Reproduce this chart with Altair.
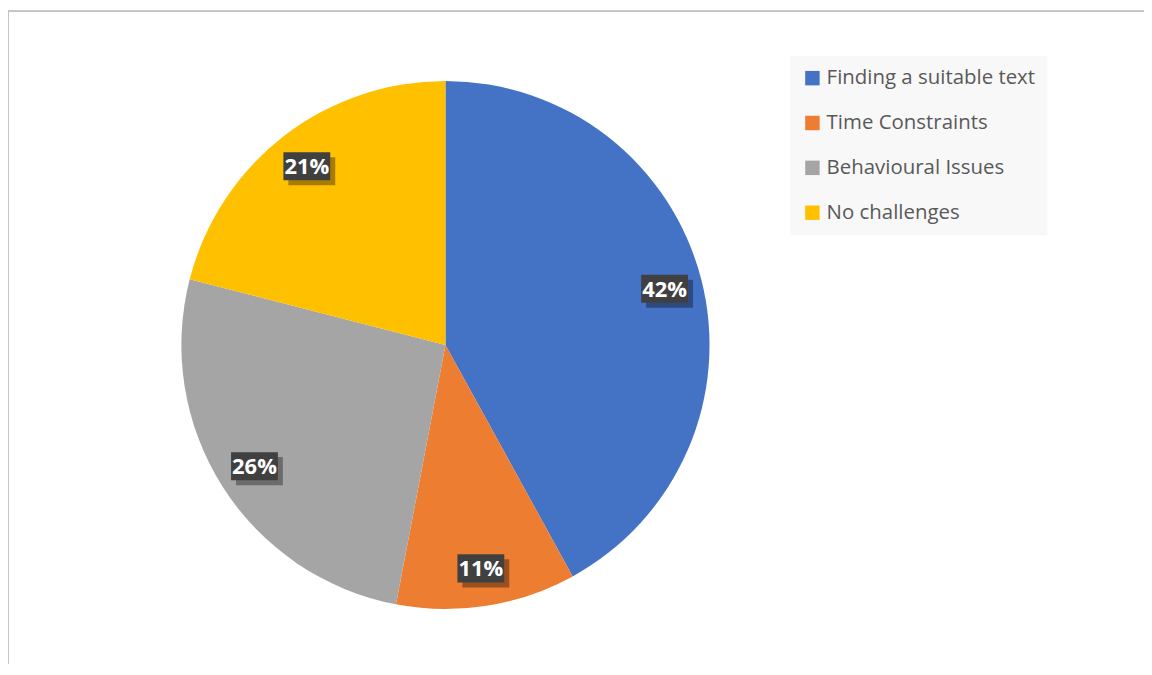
import altair as alt
import pandas as pd

categories = ["Finding a suitable text", "Time Constraints", "Behavioural Issues", "No challenges"]
values = [42, 11, 26, 21]
colors = ["#4472C4", "#ED7D31", "#A5A5A5", "#FFC000"]
order_idx = [0, 1, 2, 3]

df = pd.DataFrame({"category": categories, "value": values, "idx": order_idx})

W, H = 1140, 655
CX, CY = 439, 335          # pie centre inside the view (pixels)
R = 265                    # pie radius
LR = 227                   # label radius

xs = alt.Scale(domain=[-CX, W - CX], range=[0, W], zero=False, nice=False)
ys = alt.Scale(domain=[-(H - CY), CY], range=[H, 0], zero=False, nice=False)

base = alt.Chart(df)

color = alt.Color(
    "category:N",
    scale=alt.Scale(domain=categories, range=colors),
    sort=categories,
    legend=alt.Legend(
        title=None, orient="none", legendX=785, legendY=45,
        fillColor="#F8F8F8", padding=12, symbolType="square", symbolSize=210,
        symbolStrokeWidth=0, labelFontSize=20.5, labelFont="Open Sans",
        labelColor="#595959", rowPadding=24, labelOffset=4, labelLimit=400,
    ),
)

pie = base.mark_arc(radius=R, stroke=None).encode(
    theta=alt.Theta("value:Q", stack=True),
    order=alt.Order("idx:Q"),
    color=color,
    x=alt.datum(0, scale=xs, axis=None, type="quantitative"),
    y=alt.datum(0, scale=ys, axis=None, type="quantitative"),
)

lab = base.transform_window(
    cum="sum(value)", sort=[alt.SortField("idx")], frame=[None, 0]
).transform_joinaggregate(total="sum(value)").transform_calculate(
    mid="(datum.cum - datum.value/2)/datum.total*2*PI",
    lx=f"{LR}*sin(datum.mid)",
    ly=f"{LR}*cos(datum.mid)",
    txt="format(datum.value/datum.total, '.0%')",
)

box_shape = "M-1,-0.6L1,-0.6L1,0.6L-1,0.6Z"
enc = dict(
    x=alt.X("lx:Q", scale=xs, axis=None),
    y=alt.Y("ly:Q", scale=ys, axis=None),
)

shadow = lab.mark_point(shape=box_shape, size=2209, filled=True, fill="#000000",
                        opacity=0.35, strokeWidth=0, xOffset=5, yOffset=5).encode(**enc)
box = lab.mark_point(shape=box_shape, size=2209, filled=True, fill="#404040",
                     opacity=1, strokeWidth=0).encode(**enc)
text = lab.mark_text(font="Open Sans", fontWeight="bold", fontSize=22, color="white",
                     baseline="middle", align="center", dy=1).encode(text="txt:N", **enc)

left_border = alt.Chart(df).mark_rule(color="#C0C0C0", strokeWidth=1).encode(
    x=alt.value(0), y=alt.value(0), y2=alt.value(H))
top_border = alt.Chart(df).mark_rule(color="#C0C0C0", strokeWidth=1).encode(
    x=alt.value(0), x2=alt.value(W), y=alt.value(0))

chart = alt.layer(pie, shadow, box, text, left_border, top_border).properties(
    width=W, height=H, autosize="none",
    padding={"left": 0, "top": 2, "right": 0, "bottom": 0},
).configure_view(stroke=None)

chart.save("out.html", embed_options={"renderer": "svg", "actions": False})
